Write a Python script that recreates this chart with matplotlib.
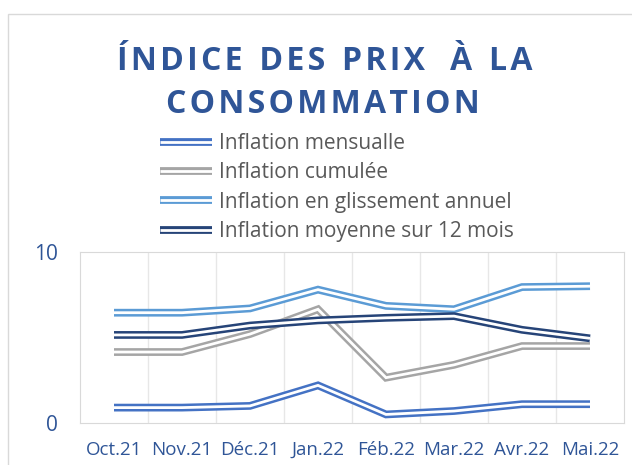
import matplotlib.pyplot as plt
import matplotlib.patheffects as pe
from matplotlib.patches import Rectangle

mois = ['Oct.21', 'Nov.21', 'Déc.21', 'Jan.22', 'Féb.22', 'Mar.22', 'Avr.22', 'Mai.22']
mensuelle = [0.9, 0.9, 1.0, 2.2, 0.5, 0.7, 1.1, 1.1]
cumulee = [4.15, 4.15, 5.2, 6.65, 2.65, 3.4, 4.5, 4.5]
glissement = [6.45, 6.45, 6.7, 7.8, 6.85, 6.65, 7.95, 8.0]
moyenne = [5.15, 5.15, 5.7, 6.0, 6.15, 6.25, 5.45, 4.95]

noms = ['Inflation mensualle', 'Inflation cumulée',
        'Inflation en glissement annuel', 'Inflation moyenne sur 12 mois']
couleurs = ['#4472C4', '#A5A5A5', '#5B9BD5', '#264478']

plt.rcParams['font.family'] = ['Open Sans', 'DejaVu Sans']
bleu = '#2F5597'

fig = plt.figure(figsize=(6.32, 4.65), dpi=100)
# cadre du graphique (bord gauche et haut visibles)
fig.patches.append(Rectangle((8 / 632, -0.1), 2, 1 - 14 / 465 + 0.1,
                             transform=fig.transFigure, fill=False,
                             edgecolor='#D9D9D9', lw=1))
ax = fig.add_axes([80 / 632, 1 - 423 / 465, (624 - 80) / 632, (423 - 252) / 465])

x = range(len(mois))
lignes = []
for serie, nom, c in zip([mensuelle, cumulee, glissement, moyenne], noms, couleurs):
    l, = ax.plot(x, serie, color=c, lw=5.6, label=nom,
                 solid_joinstyle='miter', solid_capstyle='butt')
    # double trait : trait blanc au milieu
    l.set_path_effects([pe.Normal(),
                        pe.Stroke(linewidth=2.0, foreground='white', capstyle='butt')])
    lignes.append(l)

ax.set_xlim(-0.5, 7.5)
ax.set_ylim(0, 10)
ax.set_yticks([0, 10])
ax.set_xticks(list(x))
ax.set_xticklabels(mois)
ax.set_xticks([i + 0.5 for i in range(7)], minor=True)
ax.grid(True, which='minor', axis='x', color='#E7E7E7', lw=1)
ax.tick_params(which='both', length=0)
ax.tick_params(axis='x', colors=bleu, labelsize=13.5, pad=13)
ax.tick_params(axis='y', colors=bleu, labelsize=15, pad=16)
for s in ax.spines.values():
    s.set_color('#D9D9D9')

hs = '\u200a'
titre1 = hs.join('ÍNDICE') + '  ' + hs.join('DES') + '  ' + \
    hs.join('PRIX') + '   ' + 'À' + '  ' + hs.join('LA')
titre2 = hs.join('CONSOMMATION')
fig.text(325 / 632, 1 - 70 / 465, titre1, ha='center', va='baseline',
         fontsize=23, fontweight='bold', color=bleu)
fig.text(323 / 632, 1 - 113 / 465, titre2, ha='center', va='baseline',
         fontsize=23, fontweight='bold', color=bleu)

fig.legend(handles=lignes, loc='upper left', bbox_to_anchor=(160 / 632, 1 - 133 / 465),
           frameon=False, fontsize=15, labelcolor='#595959', handlelength=2.5,
           handletextpad=0.35, labelspacing=0.4, borderpad=0, borderaxespad=0)

fig.savefig('out.png', dpi=100)
